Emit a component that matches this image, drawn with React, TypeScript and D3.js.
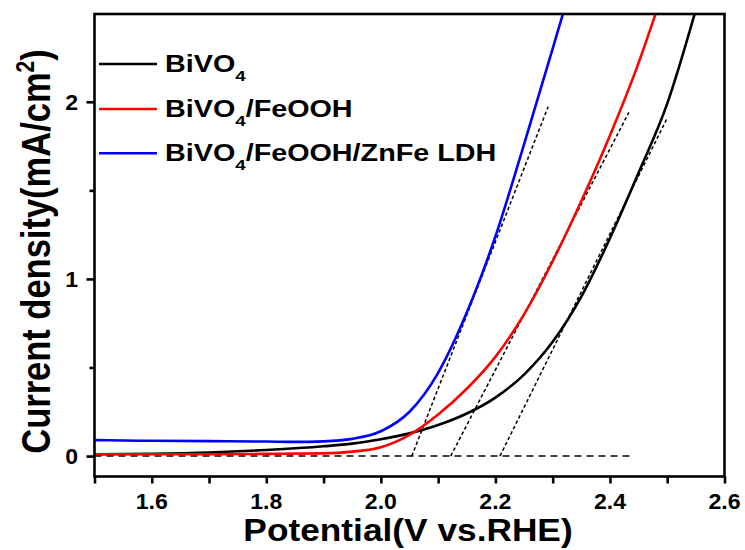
import React, { useEffect, useRef } from "react";
import * as d3 from "d3";

// LSV curves: potential (V vs. RHE) and current density (mA/cm2)
const bivo4V = [1.5, 1.6, 1.7, 1.8, 1.9, 1.95, 2.0, 2.05, 2.1, 2.15, 2.2, 2.25, 2.3, 2.35, 2.4, 2.45, 2.5, 2.55];
const bivo4J = [0.01, 0.013, 0.02, 0.034, 0.055, 0.07, 0.095, 0.128, 0.175, 0.24, 0.33, 0.46, 0.645, 0.9, 1.23, 1.6, 1.99, 2.52];

const feoohV = [1.5, 1.6, 1.7, 1.8, 1.9, 1.95, 2.0, 2.05, 2.1, 2.15, 2.2, 2.25, 2.3, 2.35, 2.4, 2.45, 2.48];
const feoohJ = [0.01, 0.01, 0.01, 0.012, 0.015, 0.025, 0.05, 0.12, 0.235, 0.38, 0.56, 0.8, 1.1, 1.44, 1.81, 2.22, 2.5];

const ldhV = [1.5, 1.55, 1.6, 1.7, 1.8, 1.85, 1.9, 1.95, 2.0, 2.05, 2.1, 2.15, 2.2, 2.25, 2.3, 2.32];
const ldhJ = [0.09, 0.088, 0.086, 0.084, 0.082, 0.08, 0.083, 0.097, 0.14, 0.25, 0.47, 0.81, 1.24, 1.76, 2.3, 2.52];

const seriesNames = ["BiVO4", "BiVO4/FeOOH", "BiVO4/FeOOH/ZnFe LDH"];
const seriesColors = ["#000000", "#ff0000", "#0000ff"];

// onset tangent lines (start on J=0, end point)
const tangentStartV = [2.208, 2.122, 2.054];
const tangentEndV = [2.499, 2.433, 2.292];
const tangentEndJ = [1.902, 1.94, 1.972];
const baselineV = [1.5, 2.436];

const xMajor = [1.6, 1.8, 2.0, 2.2, 2.4, 2.6];
const xMinor = [1.5, 1.7, 1.9, 2.1, 2.3, 2.5];
const yMajor = [0, 1, 2];
const yMinor = [0.5, 1.5];

const width = 745;
const height = 550;
const left = 94.5, right = 724.5, top = 14, bottom = 476.5;
const font = "'Liberation Sans', Arial, sans-serif";

export default function App() {
  const svgRef = useRef<SVGSVGElement>(null);

  useEffect(() => {
    const svg = d3.select(svgRef.current);
    svg.selectAll("*").remove();

    const x = d3.scaleLinear().domain([1.5, 2.6]).range([left, right]);
    const y = d3.scaleLinear().domain([-0.1155, 2.4958]).range([bottom, top]);

    svg.append("defs").append("clipPath").attr("id", "plot")
      .append("rect").attr("x", left).attr("y", top)
      .attr("width", right - left).attr("height", bottom - top);

    // dashed baseline + onset tangents
    svg.append("line")
      .attr("x1", x(baselineV[0])).attr("x2", x(baselineV[1]))
      .attr("y1", y(0)).attr("y2", y(0))
      .attr("stroke", "#000").attr("stroke-width", 1.6)
      .attr("stroke-dasharray", "7,5");

    tangentStartV.forEach((v, i) => {
      svg.append("line")
        .attr("x1", x(v)).attr("y1", y(0))
        .attr("x2", x(tangentEndV[i])).attr("y2", y(tangentEndJ[i]))
        .attr("stroke", "#000").attr("stroke-width", 1.5)
        .attr("stroke-dasharray", "3.5,2.5");
    });

    const curves = [
      bivo4V.map((v, i) => [v, bivo4J[i]]),
      feoohV.map((v, i) => [v, feoohJ[i]]),
      ldhV.map((v, i) => [v, ldhJ[i]]),
    ];
    const line = d3.line<number[]>()
      .x((d) => x(d[0])).y((d) => y(d[1]))
      .curve(d3.curveMonotoneX);

    const g = svg.append("g").attr("clip-path", "url(#plot)");
    curves.forEach((c, i) => {
      g.append("path").attr("d", line(c))
        .attr("fill", "none").attr("stroke", seriesColors[i])
        .attr("stroke-width", 2.6);
    });

    // frame
    svg.append("rect").attr("x", left).attr("y", top)
      .attr("width", right - left).attr("height", bottom - top)
      .attr("fill", "none").attr("stroke", "#000").attr("stroke-width", 2.6);

    // x axis
    const xAxis = svg.append("g")
      .attr("transform", `translate(0,${bottom})`)
      .call(d3.axisBottom(x).tickValues([...xMajor, ...xMinor]).tickSize(7).tickFormat(() => ""));
    xAxis.select(".domain").remove();
    xAxis.selectAll("line").attr("stroke-width", 2.6);

    xMajor.forEach((v) => {
      svg.append("text")
        .attr("transform", `translate(${x(v)},508.5) scale(1.05,1)`)
        .attr("text-anchor", "middle")
        .attr("font-family", font).attr("font-weight", "bold").attr("font-size", 22)
        .text(v.toFixed(1));
    });

    // y axis
    const yAxis = svg.append("g")
      .attr("transform", `translate(${left},0)`)
      .call(d3.axisLeft(y).tickValues(yMajor).tickSize(8).tickFormat(() => ""));
    yAxis.select(".domain").remove();
    yAxis.selectAll("line").attr("stroke-width", 2.6);
    const yAxisMinor = svg.append("g")
      .attr("transform", `translate(${left},0)`)
      .call(d3.axisLeft(y).tickValues(yMinor).tickSize(5).tickFormat(() => ""));
    yAxisMinor.select(".domain").remove();
    yAxisMinor.selectAll("line").attr("stroke-width", 2.6);

    yMajor.forEach((v) => {
      svg.append("text")
        .attr("transform", `translate(78,${y(v) + 8}) scale(1.05,1)`)
        .attr("text-anchor", "end")
        .attr("font-family", font).attr("font-weight", "bold").attr("font-size", 22)
        .text(String(v));
    });

    // axis titles
    svg.append("text")
      .attr("transform", `translate(408,540.5) scale(1.12,1)`)
      .attr("text-anchor", "middle")
      .attr("font-family", font).attr("font-weight", "bold").attr("font-size", 31.5)
      .text("Potential(V vs.RHE)");

    const yTitle = svg.append("text")
      .attr("transform", `translate(50,251.5) rotate(-90) scale(1,1.2)`)
      .attr("text-anchor", "middle")
      .attr("font-family", font).attr("font-weight", "bold").attr("font-size", 34.5);
    yTitle.append("tspan").text("Current density(mA/cm");
    yTitle.append("tspan").attr("font-size", 21).attr("dy", -13).text("2");
    yTitle.append("tspan").attr("dy", 13).text(")");

    // legend
    const legendY = [64, 109, 153.3];
    seriesNames.forEach((name, i) => {
      svg.append("line")
        .attr("x1", 99).attr("x2", 157)
        .attr("y1", legendY[i]).attr("y2", legendY[i])
        .attr("stroke", seriesColors[i]).attr("stroke-width", 2.6);
      const t = svg.append("text")
        .attr("transform", `translate(165,${legendY[i] + 8}) scale(1.25,1)`)
        .attr("font-family", font).attr("font-weight", "bold").attr("font-size", 23);
      const parts = name.split("4");
      t.append("tspan").text(parts[0]);
      t.append("tspan").attr("font-size", 15).attr("dy", 8.5).text("4");
      if (parts[1]) t.append("tspan").attr("dy", -8.5).text(parts[1]);
    });
  }, []);

  return (
    <svg
      ref={svgRef}
      width={width}
      height={height}
      style={{ position: "absolute", left: 0, top: 0, background: "#fff" }}
    />
  );
}
